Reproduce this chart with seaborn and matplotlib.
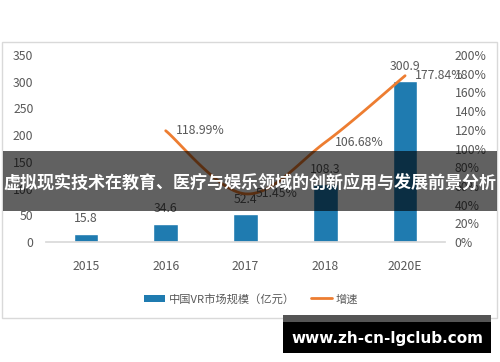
import numpy as np
import pandas as pd
import seaborn as sns
import matplotlib.pyplot as plt
from matplotlib.patches import Rectangle, Patch
from matplotlib.lines import Line2D

# ---- data ----
years = ['2015', '2016', '2017', '2018', '2020E']
market = [15.8, 34.6, 52.4, 108.3, 300.9]
growth_years = ['2016', '2017', '2018', '2020E']
growth = [118.99, 51.45, 106.68, 177.84]
left_ticks = [0, 50, 100, 150, 200, 250, 300, 350]
right_ticks = [0, 20, 40, 60, 80, 100, 120, 140, 160, 180, 200]
legend_labels = ['中国VR市场规模（亿元）', '增速']
title = '虚拟现实技术在教育、医疗与娱乐领域的创新应用与发展前景分析'
watermark = 'www.zh-cn-lgclub.com'

BAR = '#1f7bb0'
LINE = '#ed7d31'
TXT = '#595959'

sns.set_theme(style='white')
plt.rcParams['font.family'] = ['Noto Sans CJK SC', 'DejaVu Sans']

W, H = 500, 362
fig = plt.figure(figsize=(5, 3.62), dpi=100)


def fx(px):
    return px / W


def fy(py):
    return 1 - py / H


# chart frame
fig.patches.append(Rectangle((fx(2), fy(318)), fx(495), (316 - 40) / H, transform=fig.transFigure,
                             fill=False, edgecolor='#d9d9d9', lw=1, zorder=0))

ax = fig.add_axes([fx(46), fy(242), fx(399), (242 - 55) / H])
df = pd.DataFrame({'year': years, 'market': market})
sns.barplot(data=df, x='year', y='market', ax=ax, color=BAR, width=0.31, saturation=1, zorder=2)
ax.set_xlim(-0.5, len(years) - 0.5)
ax.set_ylim(0, 350)
ax.set_yticks(left_ticks)
ax.set_xlabel('')
ax.set_ylabel('')
for s in ['top', 'right', 'left']:
    ax.spines[s].set_visible(False)
ax.spines['bottom'].set_color('#d9d9d9')
ax.tick_params(axis='y', length=0, pad=9, labelsize=8.8, labelcolor=TXT)
ax.tick_params(axis='x', length=0, pad=13, labelsize=8.8, labelcolor=TXT)
for i, v in enumerate(market):
    ax.annotate(f'{v}', (i, v), xytext=(0, 6), textcoords='offset points',
                ha='center', va='bottom', fontsize=8.8, color=TXT)

# growth line (smoothed Catmull-Rom through data points)
ax2 = ax.twinx()
gx = np.array([years.index(y) for y in growth_years], dtype=float)
gy = np.array(growth, dtype=float)
pts = np.column_stack([gx, gy])
curve = []
for i in range(len(pts) - 1):
    p0 = pts[i - 1] if i > 0 else pts[i]
    p1, p2 = pts[i], pts[i + 1]
    p3 = pts[i + 2] if i + 2 < len(pts) else pts[i + 1]
    t = np.linspace(0, 1, 30)[:, None]
    seg = 0.5 * ((2 * p1) + (-p0 + p2) * t + (2 * p0 - 5 * p1 + 4 * p2 - p3) * t ** 2
                 + (-p0 + 3 * p1 - 3 * p2 + p3) * t ** 3)
    curve.append(seg)
curve = np.vstack(curve)
sns.lineplot(x=curve[:, 0], y=curve[:, 1], ax=ax2, sort=False, color=LINE, lw=2, zorder=3)
ax2.set_ylim(0, 200)
ax2.set_yticks(right_ticks)
ax2.set_yticklabels([f'{t}%' for t in right_ticks])
ax2.tick_params(axis='y', length=0, pad=7, labelsize=8.8, labelcolor=TXT)
for s in ax2.spines.values():
    s.set_visible(False)
ax2.set_xlim(-0.5, len(years) - 0.5)
for x, v in zip(gx, gy):
    ax2.annotate(f'{v:.2f}%', (x, v), xytext=(7, 0), textcoords='offset points',
                 ha='left', va='center', fontsize=8.8, color=TXT)

# legend
handles = [Patch(facecolor=BAR, edgecolor='none'), Line2D([], [], color=LINE, lw=2)]
fig.legend(handles, legend_labels, loc='center', bbox_to_anchor=(fx(251), fy(299)), ncol=2,
           frameon=False, fontsize=8.1, handlelength=1.9, handletextpad=0.3, columnspacing=1.4,
           labelcolor=TXT)

# title banner
fig.patches.append(Rectangle((fx(3), fy(211)), fx(494), 60 / H, transform=fig.transFigure,
                             facecolor='black', alpha=0.62, edgecolor='none', zorder=10))
fig.text(fx(250), fy(183), title, ha='center', va='center', color='white', fontsize=12.25,
         fontweight='bold', zorder=11)

# watermark box
fig.patches.append(Rectangle((fx(283), fy(322)), fx(208), 7 / H, transform=fig.transFigure,
                             facecolor='#555555', edgecolor='none', zorder=10))
fig.patches.append(Rectangle((fx(283), fy(353)), fx(208), 31 / H, transform=fig.transFigure,
                             facecolor='black', edgecolor='none', zorder=10))
fig.text(fx(387), fy(338), watermark, ha='center', va='center', color='white', fontsize=11,
         fontweight='bold', family='DejaVu Sans', zorder=11)

fig.savefig('out.png', dpi=100)
